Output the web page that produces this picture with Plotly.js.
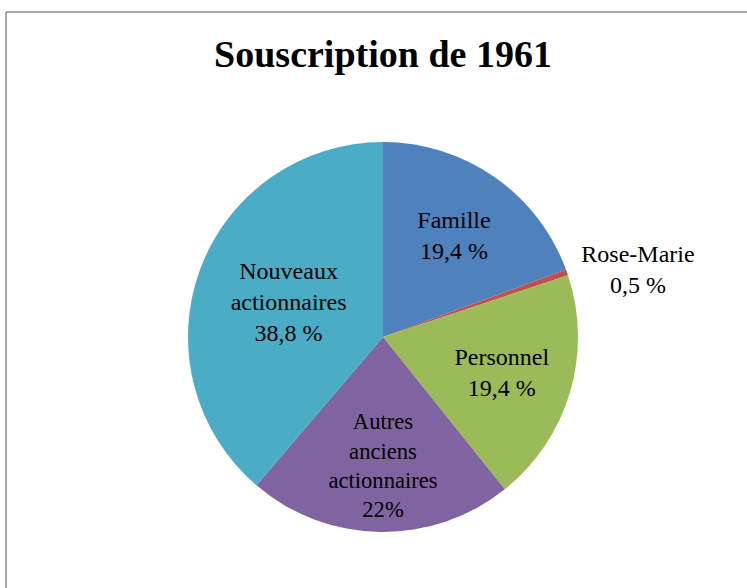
<!DOCTYPE html>
<html>
<head>
<meta charset="utf-8">
<script src="https://cdn.plot.ly/plotly-3.0.1.min.js"></script>
<style>html,body{margin:0;padding:0;background:#fff;}#chart{width:747px;height:588px;}</style>
</head>
<body>
<div id="chart"></div>
<script>
var categories = ["Famille", "Rose-Marie", "Personnel", "Autres anciens actionnaires", "Nouveaux actionnaires"];
var categoryLines = ["Famille", "Rose-Marie", "Personnel", "Autres<br>anciens<br>actionnaires", "Nouveaux<br>actionnaires"];
var values = [19.4, 0.5, 19.4, 22, 38.8];
var valueLabels = ["19,4 %", "0,5 %", "19,4 %", "22%", "38,8 %"];
var colors = ["#4F81BD", "#C0504D", "#9BBB59", "#8064A2", "#4BACC6"];
var textPositions = ["inside", "outside", "inside", "inside", "inside"];

var texts = categoryLines.map(function (c, i) { return c + "<br>" + valueLabels[i]; });

var W = 747, H = 588, cx = 383, cy = 337, R = 195;
var SERIF = "Liberation Serif";

var trace = {
  type: "pie",
  labels: categories,
  values: values,
  text: texts,
  textinfo: "text",
  textposition: textPositions,
  insidetextorientation: "horizontal",
  sort: false,
  direction: "clockwise",
  rotation: 0,
  marker: { colors: colors, line: { width: 0 } },
  textfont: { family: SERIF, size: 24, color: "#000" },
  insidetextfont: { family: SERIF, size: 24, color: "#000" },
  outsidetextfont: { family: SERIF, size: 24, color: "#000" },
  hoverinfo: "label+percent",
  domain: { x: [(cx - R) / W, (cx + R) / W], y: [(H - cy - R) / H, (H - cy + R) / H] }
};

var layout = {
  width: W, height: H,
  margin: { l: 0, r: 0, t: 0, b: 0 },
  paper_bgcolor: "#fff",
  font: { family: SERIF, color: "#000" },
  showlegend: false,
  title: {
    text: "<b>Souscription de 1961</b>",
    font: { family: SERIF, size: 38, color: "#000" },
    x: 383 / W, xanchor: "center",
    y: 1 - 40 / H, yanchor: "top", yref: "container"
  },
  shapes: [
    { type: "line", xref: "paper", yref: "paper", x0: 6 / W, x1: 1.01, y0: 1 - 12 / H, y1: 1 - 12 / H, line: { color: "#8a8a8a", width: 1.5 } },
    { type: "line", xref: "paper", yref: "paper", x0: 6 / W, x1: 6 / W, y0: -0.01, y1: 1 - 12 / H, line: { color: "#8a8a8a", width: 1.5 } }
  ]
};

Plotly.newPlot("chart", [trace], layout, { displayModeBar: false, staticPlot: true });
</script>
</body>
</html>
